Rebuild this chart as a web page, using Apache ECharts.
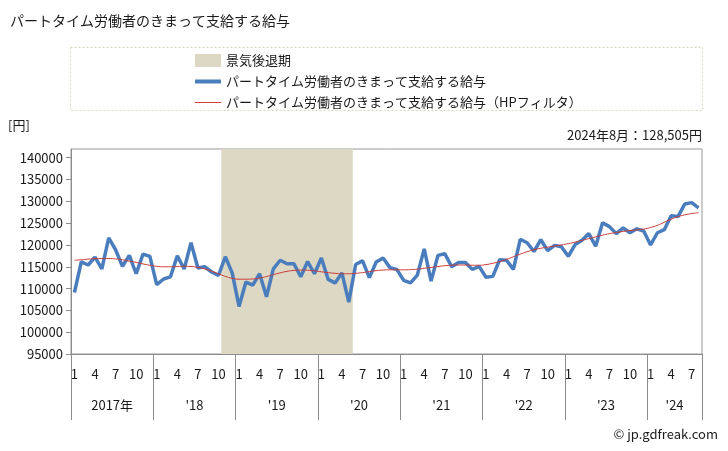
<!DOCTYPE html>
<html><head><meta charset="utf-8">
<script src="https://cdn.jsdelivr.net/npm/echarts@6/dist/echarts.min.js"></script>
<style>html,body{margin:0;padding:0;background:#fff}#c{width:728px;height:451px}</style>
</head><body><div id="c"></div>
<script>
// ---- data ----
const startYear = 2017;
const monthCount = 92; // Jan 2017 .. Aug 2024
const yearLabels = ['2017年', "'18", "'19", "'20", "'21", "'22", "'23", "'24"];
const monthTickLabels = [1, 4, 7, 10];
const yTicks = [95000, 100000, 105000, 110000, 115000, 120000, 125000, 130000, 135000, 140000];
const recessionStart = '2018-11';
const recessionEnd = '2020-05';
const wageName = 'パートタイム労働者のきまって支給する給与';
const trendName = 'パートタイム労働者のきまって支給する給与（HPフィルタ）';
const recessionName = '景気後退期';
const latestNote = '2024年8月：128,505円';

const wage = [
  109100, 116100, 115400, 117200, 114500, 121600, 118900, 115100, 117600, 113400, 117900, 117400,
  110900, 112200, 112700, 117500, 114500, 120500, 114700, 115000, 113800, 113000, 117300, 113600,
  105900, 111500, 110800, 113400, 108100, 114500, 116500, 115700, 115700, 112700, 116200, 113400,
  117000, 112100, 111300, 113600, 106900, 115500, 116400, 112500, 116100, 117000, 114800, 114400,
  111900, 111300, 113100, 119100, 111700, 117600, 118000, 115000, 116000, 116000, 114400, 115100,
  112600, 112800, 116600, 116500, 114400, 121300, 120500, 118500, 121200, 118700, 119900, 119600,
  117400, 120100, 121100, 122600, 119700, 125100, 124200, 122600, 123900, 122800, 123700, 123200,
  120000, 122800, 123500, 126700, 126500, 129400, 129700, 128505
];
const wageTrend = [
  116500, 116600, 116750, 116850, 116900, 116900, 116800, 116600, 116300, 116000, 115650, 115350,
  115100, 115000, 115000, 115050, 115100, 115050, 114850, 114500, 114000, 113400, 112800, 112350,
  112150, 112150, 112200, 112400, 112750, 113200, 113600, 113950, 114150, 114250, 114200, 114050,
  113850, 113650, 113500, 113400, 113400, 113500, 113650, 113900, 114100, 114250, 114300, 114300,
  114300, 114350, 114450, 114650, 114850, 115050, 115250, 115350, 115400, 115400, 115350, 115350,
  115500, 115800, 116200, 116700, 117300, 117900, 118450, 118900, 119250, 119500, 119750, 120000,
  120300, 120650, 121050, 121450, 121850, 122250, 122600, 122850, 123100, 123300, 123450, 123650,
  124000, 124500, 125200, 125900, 126500, 126900, 127200, 127400
];

// ---- derived ----
const categories = [];
for (let i = 0; i < monthCount; i++) {
  const y = startYear + Math.floor(i / 12), m = i % 12 + 1;
  categories.push(y + '-' + String(m).padStart(2, '0'));
}
const rs = categories.indexOf(recessionStart), re = categories.indexOf(recessionEnd);
const recession = categories.map((c, i) => (i >= rs && i <= re) ? 1 : '-');
const yearLabelIdx = {};
for (let yi = 0; yi < yearLabels.length; yi++) {
  const start = yi * 12, len = Math.min(12, monthCount - start);
  yearLabelIdx[start + len / 2 - 1] = yearLabels[yi];
}

const FONT = "'Noto Sans CJK JP', 'Noto Sans', sans-serif";
const TXT = '#1a1a1a';
const AX = '#8c8c8c';
const SHADE = '#ddd8c3';
const gridL = 71, gridR = 26, gridT = 149, gridB = 97;
const bandW = (728 - gridL - gridR) / monthCount;

const chart = echarts.init(document.getElementById('c'), null, {renderer: 'canvas'});
chart.setOption({
  animation: false,
  textStyle: {fontFamily: FONT, color: TXT},
  grid: {left: gridL, right: gridR, top: gridT, bottom: gridB, show: true, borderColor: '#999', borderWidth: 1, containLabel: false},
  legend: {
    orient: 'vertical', left: 190, top: 49, itemWidth: 26, itemHeight: 13, itemGap: 8,
    textStyle: {fontSize: 13, color: TXT, fontFamily: FONT},
    selectedMode: false,
    data: [
      {name: recessionName, icon: 'rect'},
      {name: wageName, icon: 'path://M0,0L26,0L26,4L0,4Z'},
      {name: trendName, icon: 'path://M0,0L26,0L26,1L0,1Z'}
    ]
  },
  graphic: [
    {type: 'rect', shape: {x: 70.5, y: 47.5, width: 632, height: 63}, style: {fill: 'none', stroke: '#d9d5b8', lineWidth: 1, lineDash: [2, 2]}, silent: true},
    {type: 'text', left: 10, top: 14, style: {text: wageName, fontSize: 14, fill: TXT, fontFamily: FONT}},
    {type: 'text', left: 8, top: 119, style: {text: '[円]', fontSize: 13, fill: TXT, fontFamily: FONT}},
    {type: 'text', right: 26, top: 129, style: {text: latestNote, fontSize: 13, fill: TXT, fontFamily: FONT}},
    {type: 'text', right: 10, top: 428, style: {text: '© jp.gdfreak.com', fontSize: 13, fill: TXT, fontFamily: FONT}}
  ],
  xAxis: [
    {
      type: 'category', data: categories, boundaryGap: true, position: 'bottom',
      axisLine: {show: true, lineStyle: {color: AX}},
      axisTick: {show: true, length: 66, interval: (idx) => idx % 12 === 0, lineStyle: {color: AX}},
      axisLabel: {
        interval: (idx, val) => monthTickLabels.includes(parseInt(val.slice(5), 10)),
        formatter: (val) => String(parseInt(val.slice(5), 10)),
        fontSize: 13, color: TXT, margin: 14, fontFamily: FONT
      },
      splitLine: {show: false}
    },
    {
      type: 'category', data: categories, boundaryGap: true, position: 'bottom',
      axisLine: {show: false}, axisTick: {show: false},
      axisLabel: {
        interval: (idx) => yearLabelIdx[idx] !== undefined,
        formatter: (val, idx) => yearLabelIdx[idx] || '',
        fontSize: 13, color: TXT, margin: 45, padding: [0, 0, 0, bandW], fontFamily: FONT
      },
      splitLine: {show: false}
    }
  ],
  yAxis: [
    {
      type: 'value', min: 95000, max: 142000,
      axisLine: {show: true, lineStyle: {color: AX}},
      axisTick: {show: true, length: 5, customValues: yTicks, lineStyle: {color: AX}},
      axisLabel: {customValues: yTicks, formatter: (v) => String(v), fontSize: 13, color: TXT, margin: 8, fontFamily: FONT},
      splitLine: {show: false}
    },
    {type: 'value', min: 0, max: 1, show: false, splitLine: {show: false}}
  ],
  series: [
    {
      name: recessionName, type: 'bar', xAxisIndex: 0, yAxisIndex: 1, data: recession,
      barWidth: bandW + 1.2, itemStyle: {color: SHADE}, z: 1, silent: true
    },
    {
      name: wageName, type: 'line', xAxisIndex: 0, yAxisIndex: 0, data: wage,
      symbol: 'none', color: '#4a7dbd', lineStyle: {color: '#4a7dbd', width: 3.5}, z: 3
    },
    {
      name: trendName, type: 'line', xAxisIndex: 0, yAxisIndex: 0, data: wageTrend,
      symbol: 'none', smooth: true, color: '#cc3a3a', lineStyle: {color: '#cc3a3a', width: 1}, z: 4
    }
  ]
});
</script>
</body></html>
